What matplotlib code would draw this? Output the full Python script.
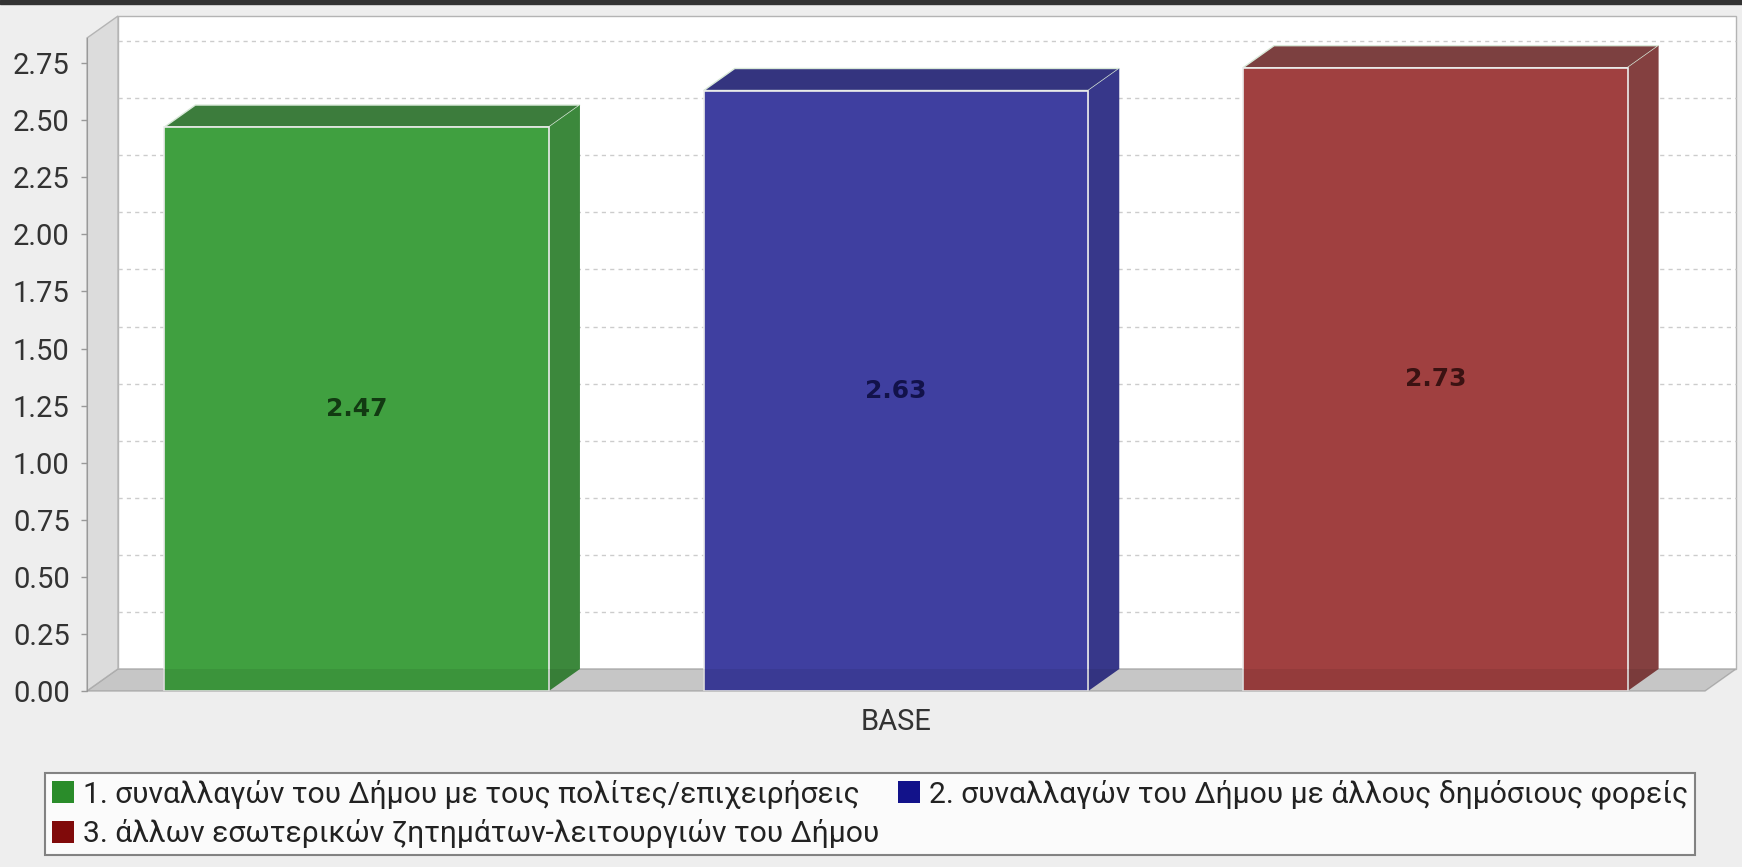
import numpy as np
import matplotlib.pyplot as plt
from matplotlib.patches import Polygon, Patch, Rectangle

# data
categories = ['BASE']
series = ['1. συναλλαγών του Δήμου με τους πολίτες/επιχειρήσεις',
          '2. συναλλαγών του Δήμου με άλλους δημόσιους φορείς',
          '3. άλλων εσωτερικών ζητημάτων-λειτουργιών του Δήμου']
values = [2.47, 2.63, 2.73]
yticks = [0.0, 0.25, 0.5, 0.75, 1.0, 1.25, 1.5, 1.75, 2.0, 2.25, 2.5, 2.75]

# colours
face_colors = ['#40a040', '#3f3fa0', '#a04040']
side_colors = ['#3c883c', '#37378a', '#844040']
top_colors = ['#3c7c3c', '#34347f', '#7c4040']
label_colors = ['#123a12', '#12124a', '#3a1212']
legend_colors = ['#2a8c2a', '#12128a', '#800a0a']

plt.rcParams['font.family'] = ['Roboto', 'DejaVu Sans']

W, H = 1742, 867
fig = plt.figure(figsize=(W / 100, H / 100), dpi=100, facecolor='#eeeeee')
fig.add_artist(Rectangle((0, 1 - 4 / H), 1, 4 / H, transform=fig.transFigure,
                         color='#333333'))

ax = fig.add_axes([87 / W, 1 - 691 / H, (1705 - 87) / W, (691 - 38) / H])
ax.set_xlim(-0.5, 2.5)
ax.set_ylim(0, 2.86)
ax.patch.set_visible(False)

# 3D depth offset (pixels) converted to data units
DX, DY = 31, 22
p0 = ax.transData.transform((0, 0))
ddx, ddy = ax.transData.inverted().transform(p0 + np.array([DX, DY]))

x0, x1 = ax.get_xlim()
y0, y1 = ax.get_ylim()

# walls
ax.add_patch(Rectangle((x0 + ddx, y0 + ddy), x1 - x0, y1 - y0, fc='white',
                       ec='#b4b4b4', lw=1, zorder=0, clip_on=False))
ax.add_patch(Polygon([(x0, y0), (x0, y1), (x0 + ddx, y1 + ddy), (x0 + ddx, y0 + ddy)],
                     fc='#dcdcdc', ec='#b4b4b4', lw=1, zorder=0.6, clip_on=False))
floor = [(x0, y0), (x1, y0), (x1 + ddx, y0 + ddy), (x0 + ddx, y0 + ddy)]
ax.add_patch(Polygon(floor, fc='#d6d6d6', ec='#b4b4b4', lw=1, zorder=0.6, clip_on=False))

for t in yticks[1:]:
    ax.plot([x0 + ddx, x1 + ddx], [t + ddy] * 2, ls=(0, (3, 3)), color='#cccccc',
            lw=1, zorder=0.5, clip_on=False)

# bars
xpos = np.arange(len(values))
width = 0.713
bars = ax.bar(xpos, values, width=width, color=face_colors, edgecolor='#ececec',
              lw=1.2, zorder=3)
for b, v, sc, tc, lc in zip(bars, values, side_colors, top_colors, label_colors):
    l, r = b.get_x(), b.get_x() + b.get_width()
    ax.add_patch(Polygon([(l, v), (r, v), (r + ddx, v + ddy), (l + ddx, v + ddy)],
                         fc=tc, ec='#d8e8d8', lw=1, zorder=2, clip_on=False))
    ax.add_patch(Polygon([(r, 0), (r, v), (r + ddx, v + ddy), (r + ddx, ddy)],
                         fc=sc, ec='none', zorder=2, clip_on=False))
    ax.text(b.get_x() + b.get_width() / 2, v / 2, f'{v:.2f}', ha='center', va='center',
            fontsize=18, fontweight='bold', family='DejaVu Sans', color=lc, zorder=5)

# floor shading over the bar bottoms
ax.add_patch(Polygon(floor, fc='black', alpha=0.07, ec='none', zorder=4, clip_on=False))

# axes
for s in ['top', 'right', 'bottom']:
    ax.spines[s].set_visible(False)
ax.spines['left'].set_color('#999999')
ax.set_yticks(yticks)
ax.set_yticklabels([f'{t:.2f}' for t in yticks])
ax.tick_params(axis='y', length=4.5, width=1, color='#999999', labelsize=21,
               labelcolor='#333333', pad=8)
ax.set_xticks([np.mean(ax.get_xlim())])
ax.set_xticklabels(categories)
ax.tick_params(axis='x', length=0, labelsize=21, labelcolor='#333333', pad=12)

# legend (row-wise order)
handles = [Patch(fc=c, ec='none') for c in legend_colors]
order = [0, 2, 1]
leg = fig.legend([handles[i] for i in order], [series[i] for i in order], ncol=2,
                 loc='center', bbox_to_anchor=(870 / W, 1 - 814 / H), fontsize=21.6,
                 frameon=True, fancybox=False, edgecolor='#666666', facecolor='white',
                 handlelength=0.75, handleheight=0.75, handletextpad=0.3,
                 columnspacing=0.6, labelspacing=0.35, borderpad=0.22, borderaxespad=0,
                 labelcolor='#222222')
leg.get_frame().set_linewidth(1.5)

fig.savefig('out.png', dpi=100, facecolor=fig.get_facecolor())
